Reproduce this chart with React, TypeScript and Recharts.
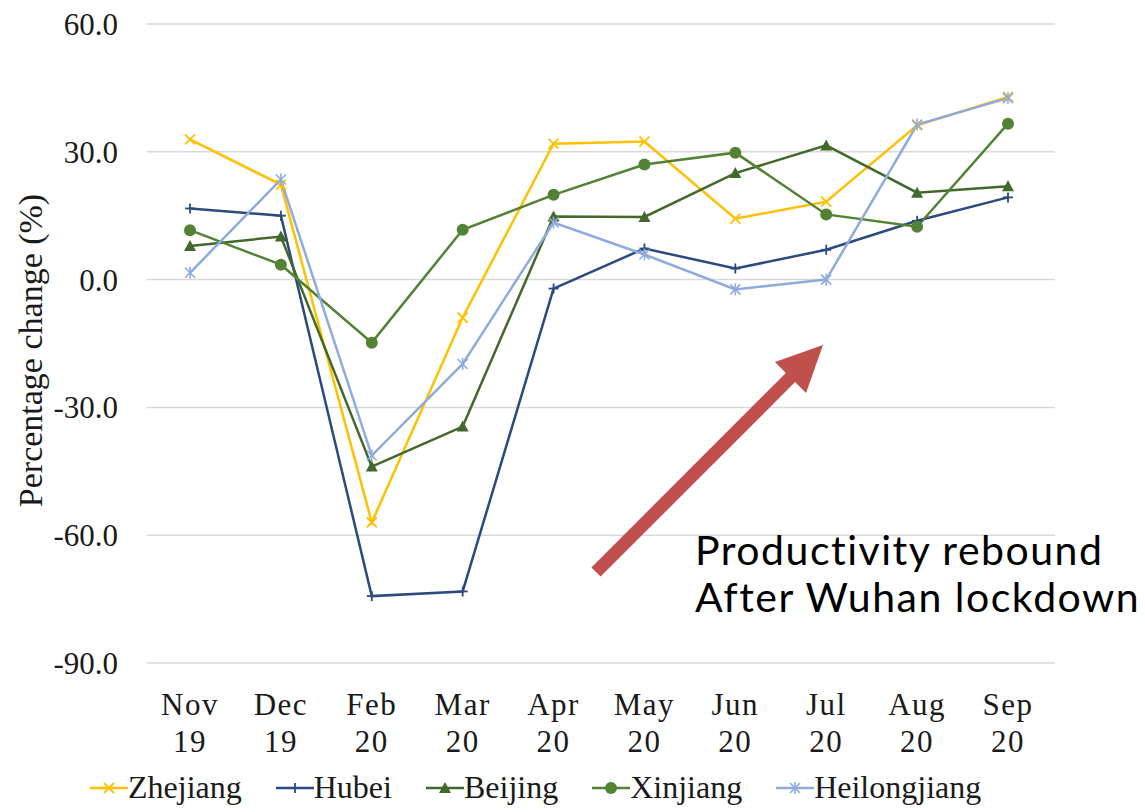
import { LineChart, Line, XAxis, YAxis, CartesianGrid, Legend } from 'recharts';

const months = ['Nov 19', 'Dec 19', 'Feb 20', 'Mar 20', 'Apr 20', 'May 20', 'Jun 20', 'Jul 20', 'Aug 20', 'Sep 20'];
const zhejiang = [32.9, 22.3, -57.0, -8.9, 31.9, 32.4, 14.3, 18.3, 36.2, 42.9];
const hubei = [16.7, 15.0, -74.3, -73.2, -2.1, 7.3, 2.6, 7.0, 13.8, 19.3];
const beijing = [7.9, 10.1, -43.9, -34.5, 14.8, 14.7, 25.0, 31.5, 20.4, 21.9];
const xinjiang = [11.6, 3.5, -14.8, 11.7, 19.9, 27.0, 29.8, 15.3, 12.4, 36.6];
const heilongjiang = [1.6, 23.5, -41.3, -19.8, 13.4, 5.9, -2.3, 0.0, 36.4, 42.6];
const yTicks = [-90, -60, -30, 0, 30, 60];

const series = [
  { key: 'Zhejiang', values: zhejiang, color: '#FFC000', marker: 'x' },
  { key: 'Hubei', values: hubei, color: '#2B4A7E', marker: 'plus' },
  { key: 'Beijing', values: beijing, color: '#43682B', marker: 'triangle' },
  { key: 'Xinjiang', values: xinjiang, color: '#548235', marker: 'circle' },
  { key: 'Heilongjiang', values: heilongjiang, color: '#8FAADC', marker: 'star' },
];

const data = months.map((m, i) => {
  const row: Record<string, any> = { month: m };
  series.forEach((s) => (row[s.key] = s.values[i]));
  return row;
});

const serif = '"Times New Roman", "Liberation Serif", serif';

function Marker({ kind, cx, cy, color }: { kind: string; cx: number; cy: number; color: string }) {
  const h = 5;
  if (kind === 'x')
    return (
      <g stroke={color} strokeWidth={1.8}>
        <line x1={cx - h} y1={cy - h} x2={cx + h} y2={cy + h} />
        <line x1={cx - h} y1={cy + h} x2={cx + h} y2={cy - h} />
      </g>
    );
  if (kind === 'plus')
    return (
      <g stroke={color} strokeWidth={1.8}>
        <line x1={cx - h} y1={cy} x2={cx + h} y2={cy} />
        <line x1={cx} y1={cy - h} x2={cx} y2={cy + h} />
      </g>
    );
  if (kind === 'triangle')
    return <path d={`M${cx},${cy - 6} L${cx + 6},${cy + 5} L${cx - 6},${cy + 5} Z`} fill={color} />;
  if (kind === 'circle') return <circle cx={cx} cy={cy} r={6} fill={color} />;
  return (
    <g stroke={color} strokeWidth={1.6}>
      <line x1={cx - h} y1={cy - h} x2={cx + h} y2={cy + h} />
      <line x1={cx - h} y1={cy + h} x2={cx + h} y2={cy - h} />
      <line x1={cx} y1={cy - h - 1} x2={cx} y2={cy + h + 1} />
    </g>
  );
}

function MonthTick({ x, y, payload }: any) {
  const [mon, yr] = String(payload.value).split(' ');
  return (
    <text x={x} y={y} textAnchor="middle" fill="#1a1a1a" fontFamily={serif} fontSize={31} letterSpacing={1.5}>
      <tspan x={x} dy={52}>{mon}</tspan>
      <tspan x={x} dy={37}>{yr}</tspan>
    </text>
  );
}

function ValueTick({ x, y, payload }: any) {
  return (
    <text x={x} y={y} dy={11} textAnchor="end" fill="#1a1a1a" fontFamily={serif} fontSize={31}>
      {Number(payload.value).toFixed(1)}
    </text>
  );
}

function LegendContent() {
  return (
    <div style={{ height: 49, display: 'flex', alignItems: 'center', paddingLeft: 90, gap: 34, fontFamily: serif, fontSize: 32, color: '#1a1a1a' }}>
      {series.map((s) => (
        <div key={s.key} style={{ display: 'flex', alignItems: 'center' }}>
          <svg width={38} height={20}>
            <line x1={0} y1={10} x2={38} y2={10} stroke={s.color} strokeWidth={2.5} />
            <Marker kind={s.marker} cx={19} cy={10} color={s.color} />
          </svg>
          <span>{s.key}</span>
        </div>
      ))}
    </div>
  );
}

function YLabel({ viewBox }: any) {
  const cx = viewBox.x + 30;
  const cy = viewBox.y + viewBox.height / 2 + 7;
  return (
    <text x={cx} y={cy} transform={`rotate(-90 ${cx} ${cy})`} textAnchor="middle" dominantBaseline="central" fill="#1a1a1a" fontFamily={serif} fontSize={34}>
      Percentage change (%)
    </text>
  );
}

// arrow drawn as a note over the chart, not a data mark
function Arrow() {
  const x0 = 596, y0 = 572, x1 = 823, y1 = 345;
  const len = Math.hypot(x1 - x0, y1 - y0);
  const ux = (x1 - x0) / len, uy = (y1 - y0) / len;
  const nx = -uy, ny = ux;
  const head = 46, hw = 22, sw = 6.5;
  const bx = x1 - ux * head, by = y1 - uy * head;
  const pts = [
    [x0 + nx * sw, y0 + ny * sw],
    [bx + nx * sw, by + ny * sw],
    [bx + nx * hw, by + ny * hw],
    [x1, y1],
    [bx - nx * hw, by - ny * hw],
    [bx - nx * sw, by - ny * sw],
    [x0 - nx * sw, y0 - ny * sw],
  ];
  return <polygon points={pts.map((p) => p.join(',')).join(' ')} fill="#C0504D" />;
}

export default function App() {
  return (
    <div style={{ position: 'absolute', left: 0, top: 0, width: 1145, height: 812, background: '#fff', fontFamily: serif }}>
      <LineChart width={1145} height={812} data={data} margin={{ top: 24, right: 90, bottom: 0, left: 0 }}>
        <CartesianGrid vertical={false} stroke="#D9D9D9" strokeWidth={1.5} />
        <XAxis
          dataKey="month"
          axisLine={false}
          tickLine={false}
          tickSize={0}
          tickMargin={0}
          height={100}
          interval={0}
          padding={{ left: 43, right: 47 }}
          tick={<MonthTick />}
        />
        <YAxis
          domain={[-90, 60]}
          ticks={yTicks}
          width={147}
          axisLine={false}
          tickLine={false}
          tickSize={0}
          tickMargin={29}
          tick={<ValueTick />}
          label={{ content: <YLabel /> }}
        />
        <Legend verticalAlign="bottom" content={<LegendContent />} wrapperStyle={{ left: 0, width: 1145 }} />
        {series.map((s) => (
          <Line
            key={s.key}
            dataKey={s.key}
            stroke={s.color}
            strokeWidth={2.5}
            isAnimationActive={false}
            dot={(p: any) => <Marker key={`${s.key}-${p.index}`} kind={s.marker} cx={p.cx} cy={p.cy} color={s.color} />}
            activeDot={false}
          />
        ))}
      </LineChart>
      <svg width={1145} height={812} style={{ position: 'absolute', left: 0, top: 0, pointerEvents: 'none' }}>
        <Arrow />
        <text fontFamily="Lato, 'Open Sans', sans-serif" fontSize={41} letterSpacing={1.5} fill="#000">
          <tspan x={695} y={565}>Productivity rebound</tspan>
          <tspan x={695} y={612}>After Wuhan lockdown</tspan>
        </text>
      </svg>
    </div>
  );
}
